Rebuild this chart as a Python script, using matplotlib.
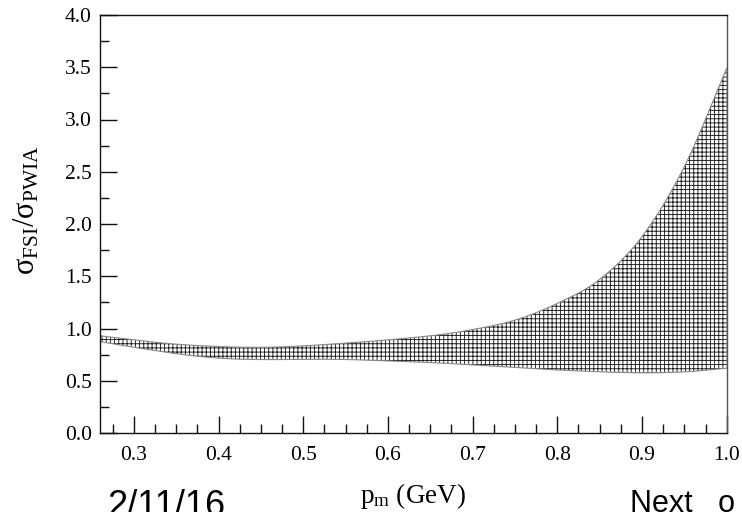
import matplotlib
matplotlib.use("Agg")
import matplotlib.pyplot as plt
import numpy as np
from matplotlib.ticker import MultipleLocator, FormatStrFormatter

# Data
p_upper = [0.26, 0.35, 0.45, 0.55, 0.65, 0.70, 0.75, 0.80, 0.85, 0.90, 0.95, 1.0]
upper = [0.93, 0.85, 0.82, 0.86, 0.93, 0.99, 1.08, 1.24, 1.47, 1.88, 2.55, 3.49]
p_lower = [0.26, 0.30, 0.372, 0.431, 0.537, 0.60, 0.667, 0.768, 0.80, 0.889, 0.95, 1.0]
lower = [0.874, 0.82, 0.737, 0.705, 0.705, 0.69, 0.667, 0.619, 0.603, 0.577, 0.585, 0.62]

x_ticks = [0.3, 0.4, 0.5, 0.6, 0.7, 0.8, 0.9, 1.0]
y_ticks = [0.0, 0.5, 1.0, 1.5, 2.0, 2.5, 3.0, 3.5, 4.0]

plt.rcParams['mathtext.fontset'] = 'custom'
plt.rcParams['mathtext.rm'] = 'Liberation Serif'
plt.rcParams['mathtext.it'] = 'Liberation Serif:italic'
plt.rcParams['hatch.linewidth'] = 0.65
plt.rcParams['hatch.color'] = '#1a1a1a'

fig = plt.figure(figsize=(7.42, 5.12), dpi=100)
ax = fig.add_axes([100/742, 79/512, 626.7/742, 418/512])

xx = np.linspace(0.26, 1.0, 400)


def smooth(px, py):
    # piecewise cubic Hermite (Catmull-Rom) through the read points
    px = np.asarray(px); py = np.asarray(py)
    n = len(px)
    m = np.zeros(n)
    for i in range(n):
        if i == 0:
            m[i] = (py[1]-py[0])/(px[1]-px[0])
        elif i == n-1:
            m[i] = (py[-1]-py[-2])/(px[-1]-px[-2])
        else:
            m[i] = (py[i+1]-py[i-1])/(px[i+1]-px[i-1])
    out = np.empty_like(xx)
    for k, x in enumerate(xx):
        i = min(np.searchsorted(px, x, side='right')-1, n-2)
        h = px[i+1]-px[i]
        t = (x-px[i])/h
        h00 = 2*t**3-3*t**2+1; h10 = t**3-2*t**2+t
        h01 = -2*t**3+3*t**2; h11 = t**3-t**2
        out[k] = h00*py[i]+h10*h*m[i]+h01*py[i+1]+h11*h*m[i+1]
    return out


up = smooth(p_upper, upper)
lo = smooth(p_lower, lower)

ax.fill_between(xx, lo, up, facecolor='white', edgecolor='#1a1a1a', hatch='++++', linewidth=0)
ax.plot(xx, up, color='#888888', lw=0.8)
ax.plot(xx, lo, color='#888888', lw=0.8)

ax.set_xlim(0.26, 1.0)
ax.set_ylim(0.0, 4.0)
ax.set_xticks(x_ticks)
ax.set_yticks(y_ticks)
ax.xaxis.set_minor_locator(MultipleLocator(0.025))
ax.yaxis.set_minor_locator(MultipleLocator(0.25))
ax.xaxis.set_major_formatter(FormatStrFormatter('%.1f'))
ax.yaxis.set_major_formatter(FormatStrFormatter('%.1f'))

ax.tick_params(which='both', direction='in', top=False, right=False, width=1.0, color='#111111')
ax.tick_params(which='major', length=12)
ax.tick_params(which='minor', length=6.5)
ax.tick_params(axis='x', which='major', pad=9)
ax.tick_params(axis='y', which='major', pad=6)
for lab in ax.get_xticklabels() + ax.get_yticklabels():
    lab.set_fontfamily('Liberation Serif')
    lab.set_fontsize(15.5)
for s in ax.spines.values():
    s.set_linewidth(1.0)
    s.set_color('#111111')
ax.spines['right'].set_color('#555555')

ax.set_xlabel(r'$\mathrm{p_m}$ (GeV)', fontfamily='Liberation Serif', fontsize=19.5, labelpad=12)
ax.set_ylabel(r'$\mathrm{σ_{FSI}/σ_{PWIA}}$', fontsize=22)
ax.yaxis.set_label_coords(-0.094, 0.533)

fig.text(107/742, -4/512, '2/11/16', fontfamily='Liberation Sans', fontsize=26, va='baseline', ha='left')
fig.text(630/742, 0.0, 'Next   o', fontfamily='Liberation Sans', fontsize=22, va='baseline', ha='left')

fig.savefig('out.png', dpi=100)
